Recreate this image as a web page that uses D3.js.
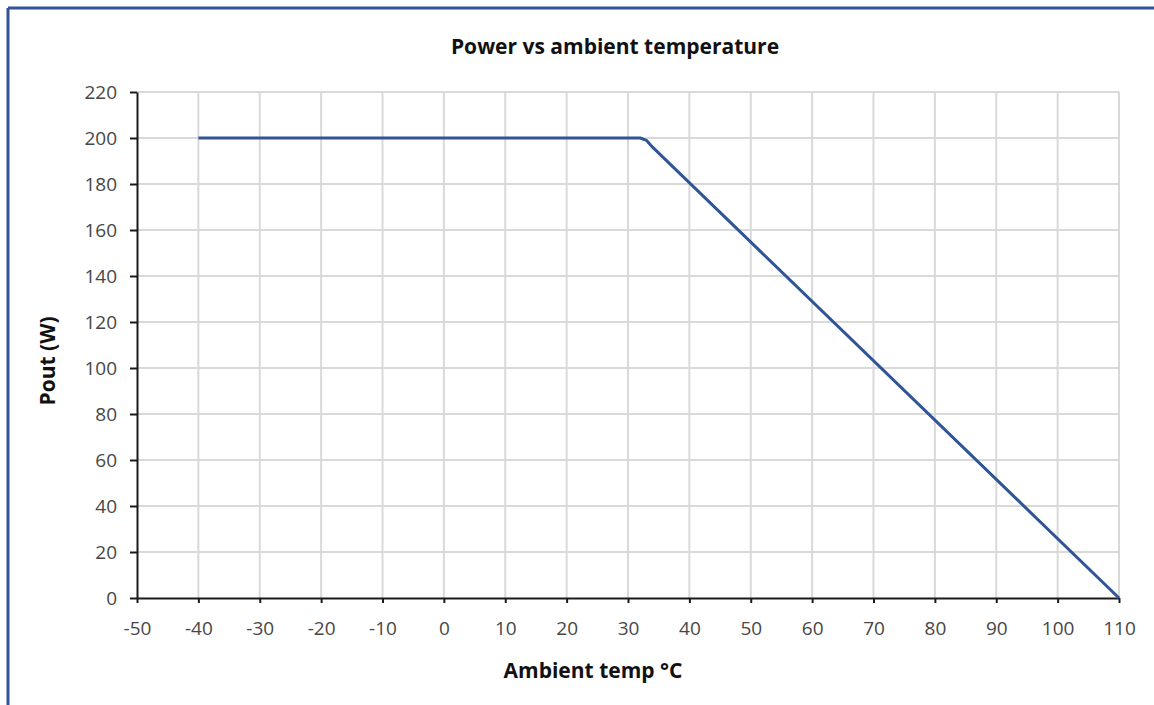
<!DOCTYPE html>
<html>
<head>
<meta charset="utf-8">
<script src="https://cdn.jsdelivr.net/npm/d3@7"></script>
<style>
  body { margin: 0; background: #fff; }
  svg { display: block; }
</style>
</head>
<body>
<svg id="chart" width="1154" height="705"></svg>
<script>
// derating curve
const tempC = [-40, 32, 33, 34, 110];
const poutW = [200, 200, 199, 196, 0];
const xTicks = [-50, -40, -30, -20, -10, 0, 10, 20, 30, 40, 50, 60, 70, 80, 90, 100, 110];
const yTicks = [0, 20, 40, 60, 80, 100, 120, 140, 160, 180, 200, 220];

const width = 1154;
const height = 705;
const margins = { left: 137, right: 35, top: 92, bottom: 107 };

const svg = d3.select("#chart");
const font = "'Open Sans', 'Liberation Sans', sans-serif";

// frame (only top and left edges show in the picture)
svg.append("line").attr("x1", 8).attr("x2", width).attr("y1", 8).attr("y2", 8)
  .attr("stroke", "#2f5597").attr("stroke-width", 3);
svg.append("line").attr("x1", 8).attr("x2", 8).attr("y1", 8).attr("y2", height)
  .attr("stroke", "#2f5597").attr("stroke-width", 3);

const x = d3.scaleLinear().domain([-50, 110]).range([margins.left, width - margins.right]);
const y = d3.scaleLinear().domain([0, 220]).range([height - margins.bottom, margins.top]);

// grid
const grid = svg.append("g").attr("id", "grid");
grid.selectAll("line.v").data(xTicks.slice(1)).join("line")
  .attr("class", "v")
  .attr("x1", (d) => x(d)).attr("x2", (d) => x(d))
  .attr("y1", y(0)).attr("y2", y(220))
  .attr("stroke", "#d9d9d9").attr("stroke-width", 2);
grid.selectAll("line.h").data(yTicks.slice(1)).join("line")
  .attr("class", "h")
  .attr("x1", x(-50)).attr("x2", x(110))
  .attr("y1", (d) => y(d)).attr("y2", (d) => y(d))
  .attr("stroke", "#d9d9d9").attr("stroke-width", 2);

// axes (plain hyphen for negatives, like the original)
const fmt = (d) => String(d);
const xAxisNode = svg.append("g").attr("id", "xAxis")
  .attr("transform", `translate(0, ${y(0)})`)
  .call(d3.axisBottom(x).tickValues(xTicks).tickFormat(fmt).tickSize(5).tickPadding(19).tickSizeOuter(0));
const yAxisNode = svg.append("g").attr("id", "yAxis")
  .attr("transform", `translate(${x(-50)}, 0)`)
  .call(d3.axisLeft(y).tickValues(yTicks).tickFormat(fmt).tickSize(7).tickPadding(13).tickSizeOuter(0));

[xAxisNode, yAxisNode].forEach((g) => {
  g.select(".domain").attr("stroke", "#1a1a1a").attr("stroke-width", 2);
  g.selectAll(".tick line").attr("stroke", "#1a1a1a").attr("stroke-width", 2);
  g.selectAll(".tick text")
    .attr("fill", "#474747")
    .attr("font-family", font)
    .attr("font-size", "19px");
});

// series line
const pts = tempC.map((t, i) => ({ t: t, p: poutW[i] }));
svg.append("path")
  .datum(pts)
  .attr("fill", "none")
  .attr("stroke", "#2f5597")
  .attr("stroke-width", 3)
  .attr("stroke-linejoin", "round")
  .attr("d", d3.line().x((d) => x(d.t)).y((d) => y(d.p)));

// titles
svg.append("text")
  .attr("x", 615).attr("y", 54)
  .attr("text-anchor", "middle")
  .attr("font-family", font).attr("font-weight", "bold").attr("font-size", "21px")
  .attr("fill", "#111")
  .text("Power vs ambient temperature");

svg.append("text")
  .attr("x", 593).attr("y", 678)
  .attr("text-anchor", "middle")
  .attr("font-family", font).attr("font-weight", "bold").attr("font-size", "21px")
  .attr("fill", "#111")
  .text("Ambient temp °C");

svg.append("text")
  .attr("transform", `translate(55, 361) rotate(-90)`)
  .attr("text-anchor", "middle")
  .attr("font-family", font).attr("font-weight", "bold").attr("font-size", "21px")
  .attr("fill", "#111")
  .text("Pout (W)");
</script>
</body>
</html>
